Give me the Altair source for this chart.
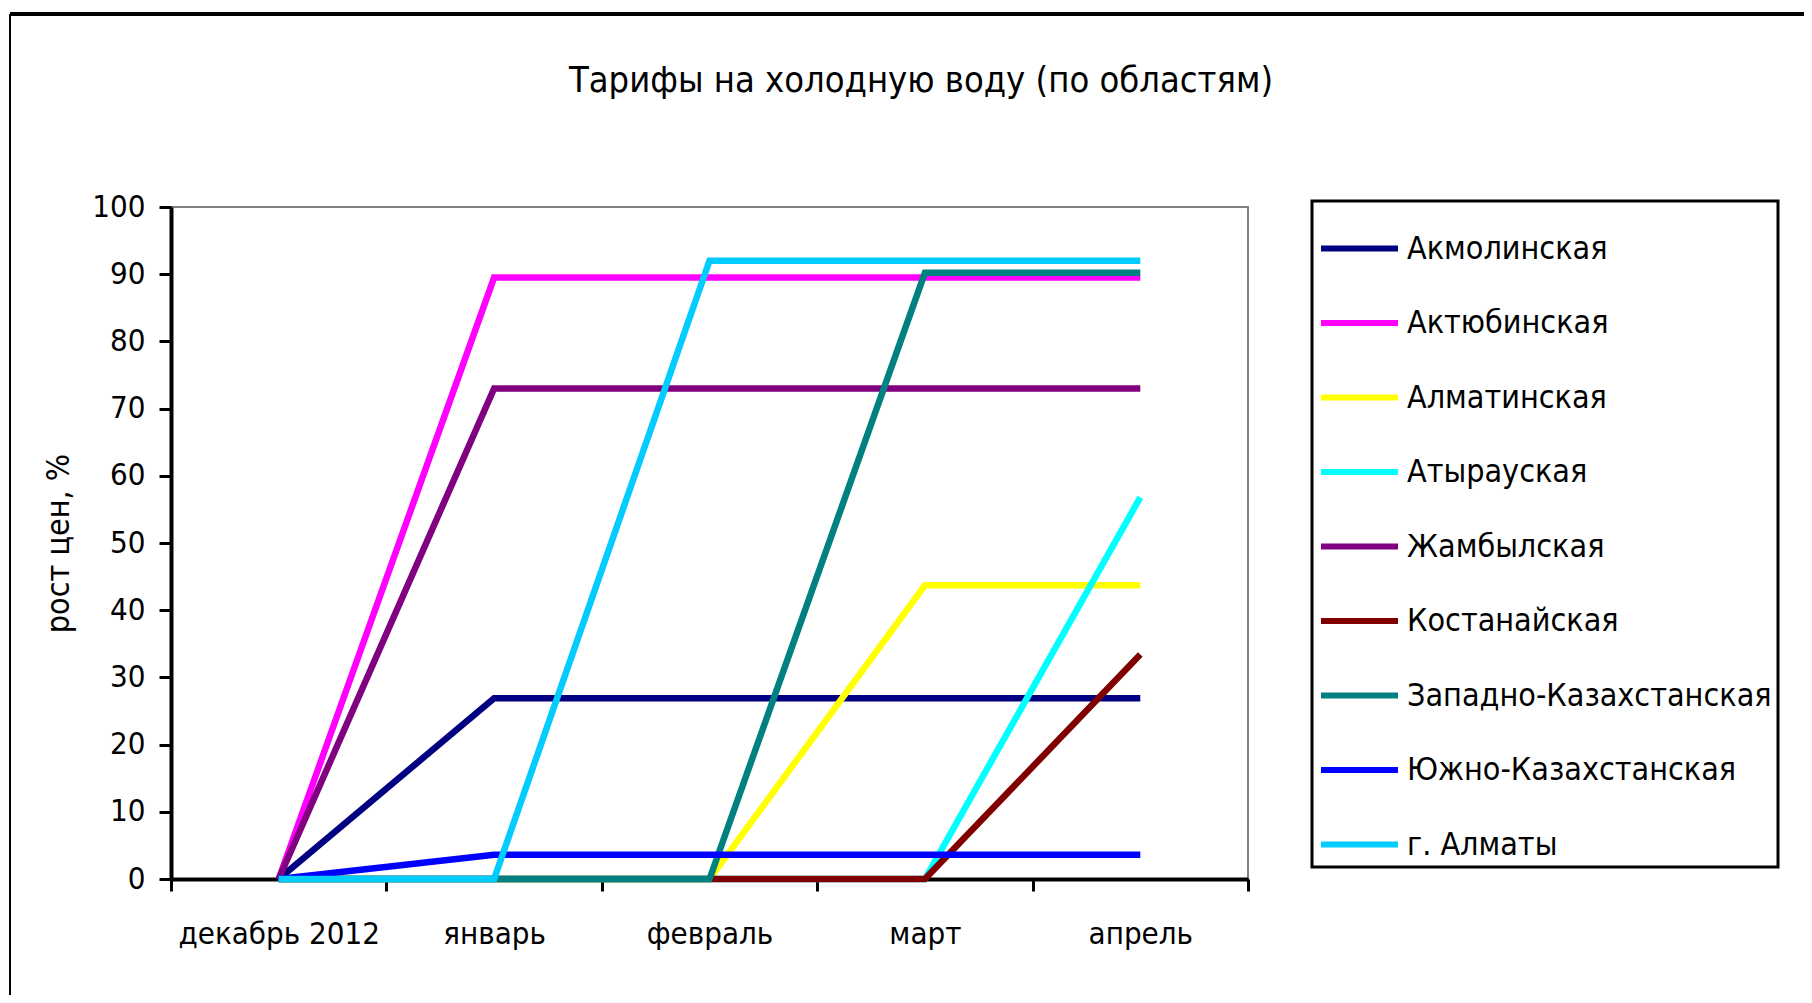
import altair as alt
import pandas as pd

title_text = "Тарифы на холодную воду (по областям)"
months = ["декабрь 2012", "январь", "февраль", "март", "апрель"]
regions = [
    "Акмолинская", "Актюбинская", "Алматинская", "Атырауская", "Жамбылская",
    "Костанайская", "Западно-Казахстанская", "Южно-Казахстанская", "г. Алматы",
]
colors = ["#000080", "#FF00FF", "#FFFF00", "#00FFFF", "#800080",
          "#800000", "#008080", "#0000FF", "#00CCFF"]

akmola = [0, 26.9, 26.9, 26.9, 26.9]
aktobe = [0, 89.5, 89.5, 89.5, 89.5]
almaty_obl = [0, 0, 0, 43.7, 43.7]
atyrau = [0, 0, 0, 0, 56.8]
zhambyl = [0, 73.0, 73.0, 73.0, 73.0]
kostanay = [0, 0, 0, 0, 33.4]
zko = [0, 0, 0, 90.2, 90.2]
yuko = [0, 3.6, 3.6, 3.6, 3.6]
almaty_city = [0, 0, 92.0, 92.0, 92.0]

series = [akmola, aktobe, almaty_obl, atyrau, zhambyl, kostanay, zko, yuko, almaty_city]
rows = []
for ri, (name, vals) in enumerate(zip(regions, series)):
    for mi, (m, v) in enumerate(zip(months, vals)):
        rows.append({"region": name, "month": m, "value": v, "order": ri * 10 + mi})
df = pd.DataFrame(rows)

FONT = "DejaVu Sans Condensed, DejaVu Sans, sans-serif"
W, H = 1077, 672

lines = alt.Chart(df).mark_line(strokeWidth=6.5, clip=False).encode(
    x=alt.X("month:O", sort=months, bandPosition=0.5,
            scale=alt.Scale(type="band", paddingInner=0, paddingOuter=0),
            axis=alt.Axis(title=None, tickBand="extent", labelAngle=0,
                          labelFontSize=31, labelFont=FONT, labelColor="black",
                          labelLimit=400, labelPadding=28, domainColor="black", domainWidth=4,
                          tickColor="black", tickWidth=3, tickSize=12)),
    y=alt.Y("value:Q", scale=alt.Scale(domain=[0, 100], nice=False),
            axis=alt.Axis(title="рост цен, %", values=list(range(0, 101, 10)),
                          labelFontSize=31, labelFont=FONT, labelColor="black",
                          labelPadding=14, domainColor="black", domainWidth=4,
                          tickColor="black", tickWidth=3, tickSize=12, grid=False,
                          titleFontSize=32, titleFont=FONT, titleFontWeight="normal",
                          titleColor="black", titlePadding=16)),
    color=alt.Color("region:N", sort=regions,
                    scale=alt.Scale(domain=regions, range=colors),
                    legend=alt.Legend(title=None, orient="none", legendX=1141, legendY=-6,
                                      direction="vertical", symbolType="stroke",
                                      symbolSize=5929, symbolStrokeWidth=6,
                                      labelFontSize=32, labelFont=FONT, labelColor="black",
                                      labelOffset=6, labelLimit=0, rowPadding=16.5,
                                      padding=6, strokeColor="black")),
    detail="region:N",
    order="order:Q",
)

blank = alt.Data(values=[{"a": 1}])
top_border = alt.Chart(blank).mark_rule(color="black", strokeWidth=4, clip=False).encode(
    x=alt.value(-161), x2=alt.value(1650), y=alt.value(-193))
left_border = alt.Chart(blank).mark_rule(color="black", strokeWidth=2, clip=False).encode(
    x=alt.value(-161), y=alt.value(-193), y2=alt.value(800))
title_mark = alt.Chart(blank).mark_text(
    fontSize=36, font=FONT, color="black", align="center", baseline="alphabetic"
).encode(x=alt.value(750), y=alt.value(-115), text=alt.value(title_text))

chart = alt.layer(top_border, left_border, title_mark, lines).properties(
    width=W, height=H,
    autosize=alt.AutoSizeParams(type="none"),
    padding={"left": 163, "top": 199, "right": 556, "bottom": 116},
).configure_view(stroke="#808080", strokeWidth=2).configure_legend(strokeWidth=3)

chart.save("out.html", embed_options={"renderer": "svg", "actions": False})
